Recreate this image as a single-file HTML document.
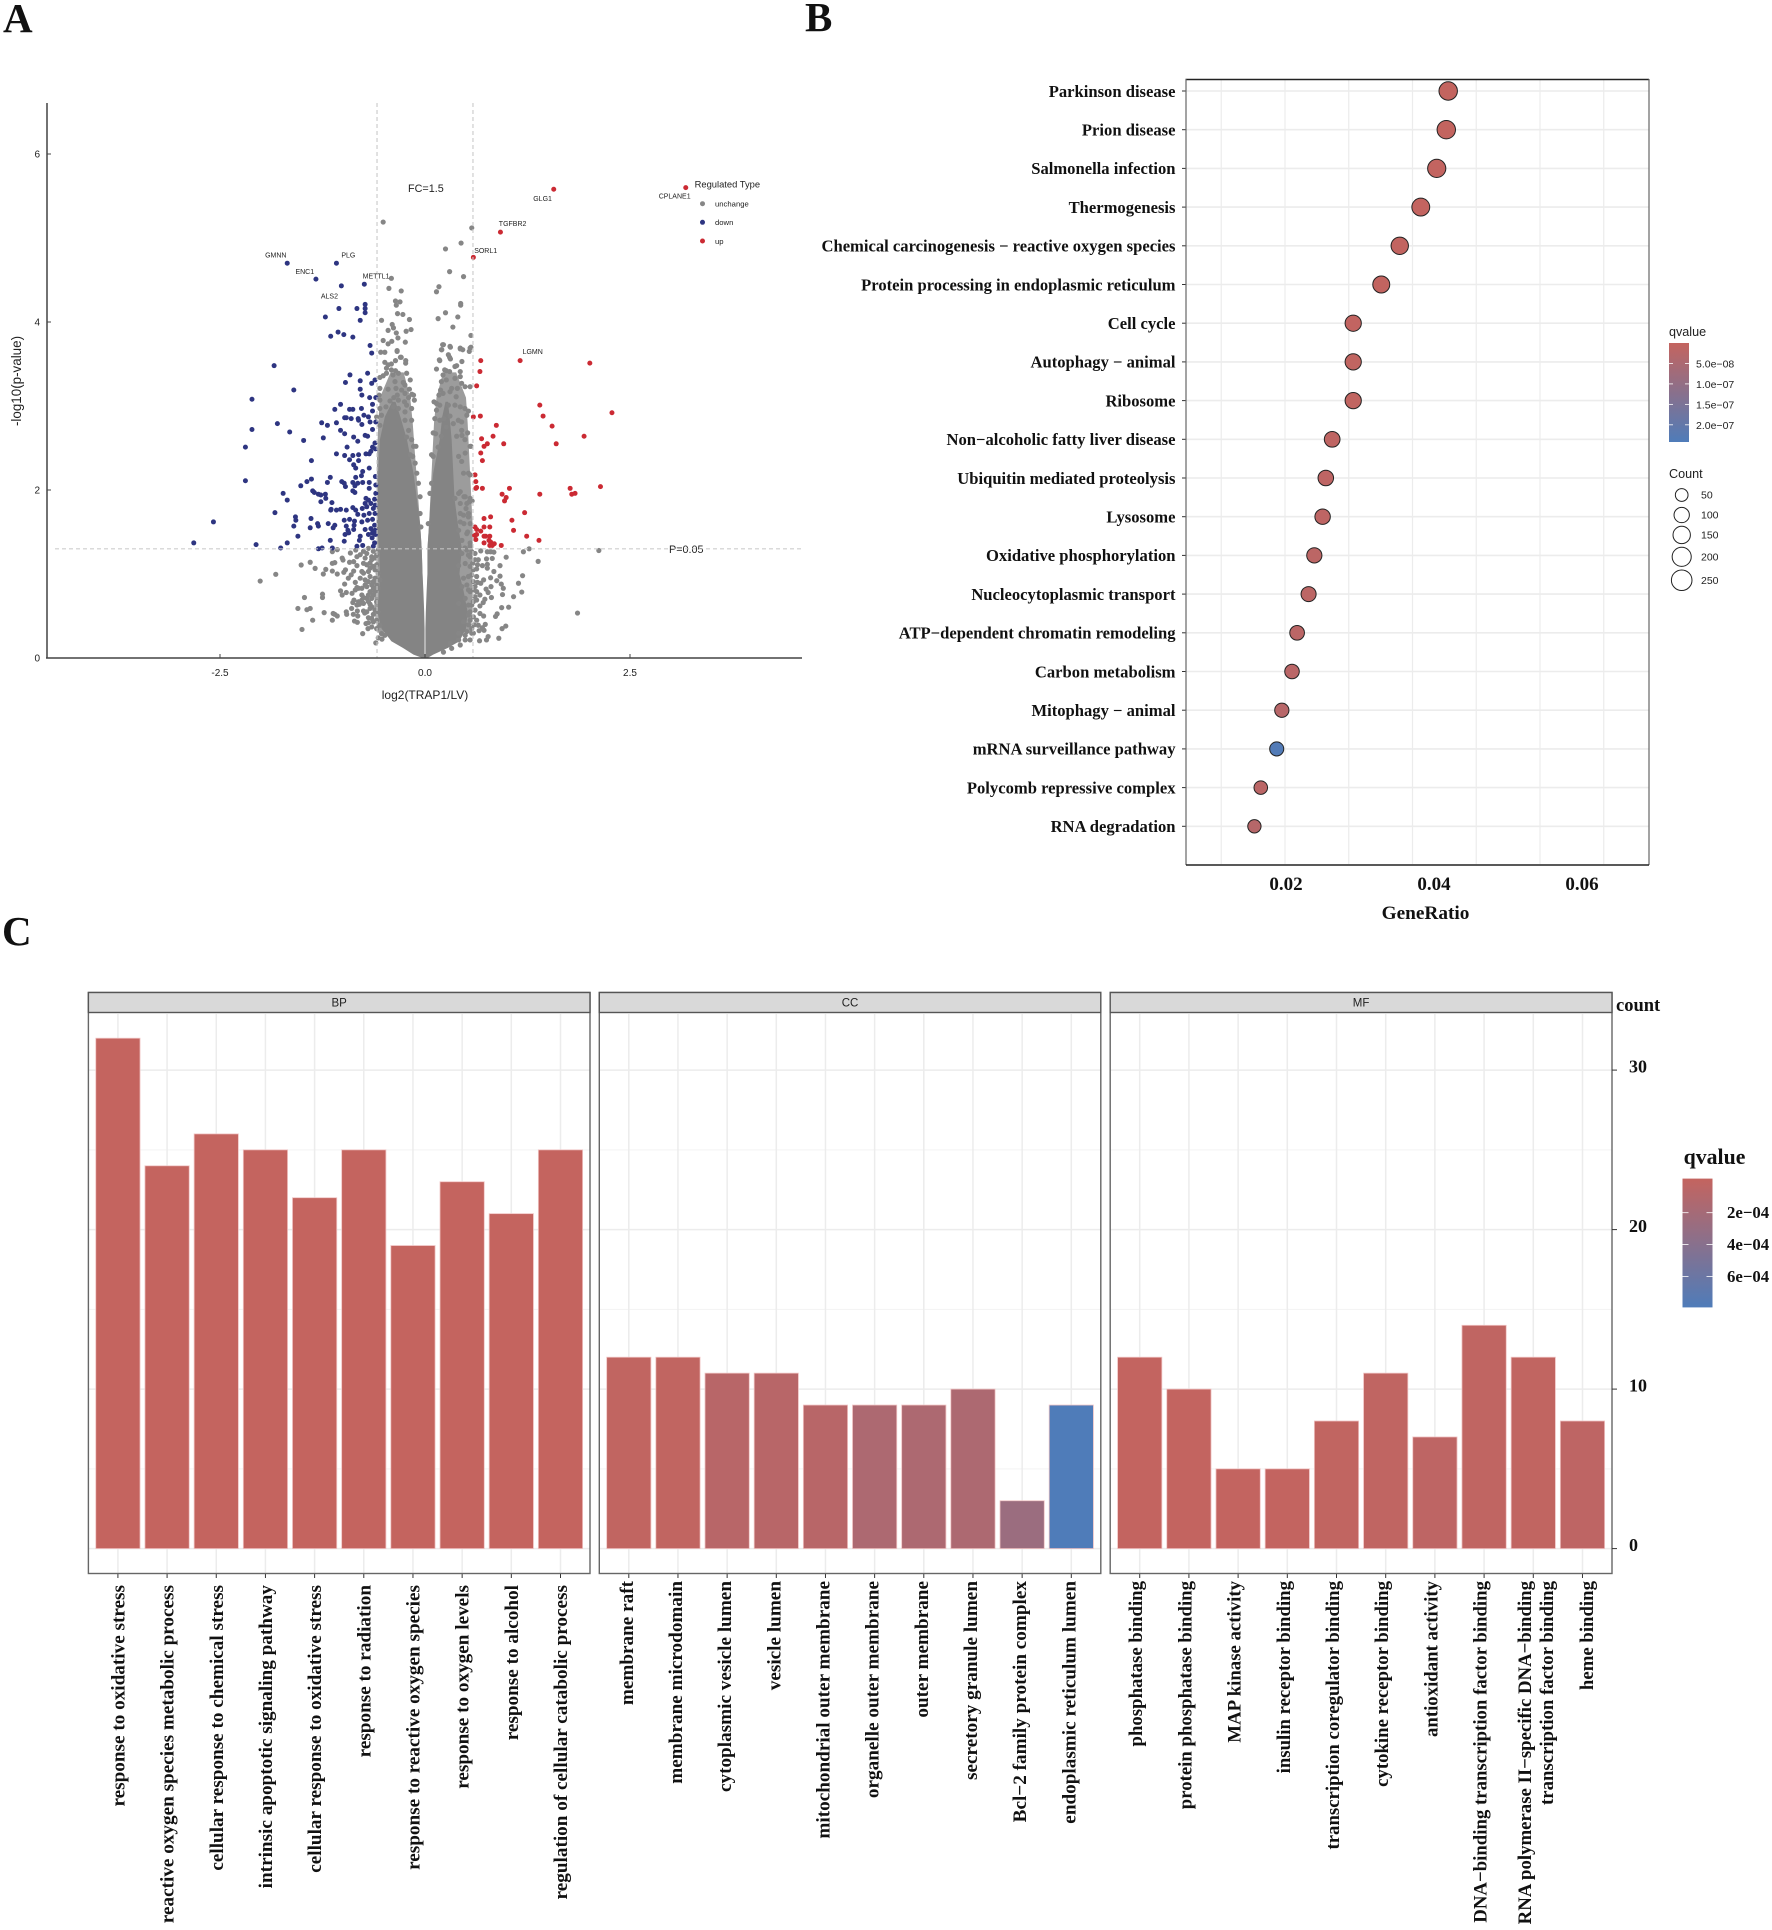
<!DOCTYPE html>
<html lang="en">
<head>
<meta charset="utf-8">
<title>Volcano plot, KEGG dot plot and GO enrichment bar chart</title>
<style>
html,body{margin:0;padding:0;background:#fff;}
#figure{display:block;width:1772px;height:1930px;}
.sans{font-family:"Liberation Sans",sans-serif;fill:#222;}
.serif{font-family:"Liberation Serif",serif;font-weight:bold;fill:#111;}
</style>
</head>
<body>
<svg id="figure" xmlns="http://www.w3.org/2000/svg" width="1772" height="1930" viewBox="0 0 1772 1930">
  <defs>
    <linearGradient id="qGrad" x1="0" y1="0" x2="0" y2="1">
      <stop offset="0" stop-color="#c4645f"/>
      <stop offset="1" stop-color="#4f7cb9"/>
    </linearGradient>
  </defs>
  <rect width="1772" height="1930" fill="#fff"/>
  <text class="serif" x="3" y="32" font-size="41" fill="#000">A</text>
  <text class="serif" x="805" y="31" font-size="41" fill="#000">B</text>
  <text class="serif" x="2" y="945" font-size="41" fill="#000">C</text>

  <g id="panelA">
    <text class="sans" x="425" y="699" font-size="12" text-anchor="middle">log2(TRAP1/LV)</text>
    <text class="sans" transform="translate(21 381) rotate(-90)" font-size="13.4" text-anchor="middle">-log10(p-value)</text>
    <text class="sans" x="408" y="192" font-size="10.8">FC=1.5</text>
    <text class="sans" x="669" y="553" font-size="10.8">P=0.05</text>
    <text class="sans" x="694.6" y="187.5" font-size="9.4">Regulated Type</text>
    <circle cx="702.5" cy="203.7" r="2.5" fill="#868686"/>
    <circle cx="702.5" cy="222.3" r="2.5" fill="#2e3581"/>
    <circle cx="702.5" cy="241" r="2.5" fill="#cb2a33"/>
    <text class="sans" x="715" y="206.5" font-size="7.7">unchange</text>
    <text class="sans" x="715" y="225" font-size="7.7">down</text>
    <text class="sans" x="715" y="244" font-size="7.7">up</text>
  </g>

  <g id="panelB">
    <text class="serif" x="1425.5" y="919" font-size="19.3" text-anchor="middle">GeneRatio</text>
    <text class="sans" x="1669" y="336" font-size="12.6">qvalue</text>
    <rect x="1669" y="343" width="20" height="99" fill="url(#qGrad)"/>
    <text class="sans" x="1669" y="478" font-size="12.6">Count</text>
  </g>

  <g id="panelC">
    <text class="serif" x="1616" y="1011" font-size="18.5">count</text>
    <text class="serif" x="1683.6" y="1164" font-size="21.8">qvalue</text>
    <rect x="1682.5" y="1178.6" width="30" height="128.8" fill="url(#qGrad)"/>
  </g>
</svg>

<script>
// ---------- Panel A data: [log2 fold change, -log10 p] ----------
const volcanoXTicks = [-2.5, 0, 2.5];
const volcanoYTicks = [0, 2, 4, 6];
const fcThresholds = [-0.585, 0.585];
const pThreshold = 1.3;

// Mottled outer body of the "unchange" cloud, as envelope values per -log10(p) level
const looseP = [0.3,0.6,1.0,1.3,1.6,2.0,2.4,2.8,3.1,3.4];
const looseLeftOuter = [-0.58,-0.62,-0.60,-0.59,-0.59,-0.59,-0.585,-0.57,-0.55,-0.42];
const looseLeftInner = [-0.01,-0.02,-0.03,-0.04,-0.06,-0.09,-0.12,-0.15,-0.18,-0.26];
const looseRightInner = [0.01,0.02,0.03,0.03,0.05,0.07,0.09,0.11,0.14,0.22];
const looseRightOuter = [0.56,0.58,0.58,0.58,0.58,0.56,0.54,0.52,0.50,0.38];

// Dense body of the "unchange" cloud, as envelope values per -log10(p) level
const coreP = [0.0,0.04,0.12,0.2,0.35,0.55,0.8,1.0,1.3,1.6,1.9,2.2,2.6,2.87,3.05];
const coreLeftOuter = [-0.03,-0.14,-0.27,-0.41,-0.53,-0.58,-0.56,-0.55,-0.56,-0.59,-0.58,-0.57,-0.55,-0.49,-0.40];
const coreLeftInner = [-0.005,-0.005,-0.005,-0.005,-0.005,-0.01,-0.02,-0.03,-0.04,-0.06,-0.10,-0.14,-0.22,-0.30,-0.36];
const coreRightInner = [0.005,0.005,0.005,0.005,0.005,0.01,0.02,0.03,0.03,0.05,0.07,0.10,0.18,0.21,0.25];
const coreRightOuter = [0.03,0.10,0.28,0.42,0.50,0.52,0.47,0.42,0.45,0.40,0.36,0.345,0.325,0.30,0.28];

const unchangePoints = [
[-0.51,5.19],[0.57,5.12],[0.44,4.94],[0.25,4.87],[0.30,4.60],[0.47,4.54],[0.17,4.42],[0.14,4.36],[-0.41,4.52],[-0.44,4.40],[-0.29,4.37],[-0.36,4.25],[-0.305,4.24],[-0.35,4.20],[0.435,4.22],[0.435,4.20],[0.25,4.11],[0.16,4.04],[0.40,4.06],[-0.335,4.10],[-0.27,4.09],[-0.19,4.03],[-0.53,4.02],[-0.40,3.97],[0.34,3.94],[-0.385,3.93],[-0.45,3.90],[-0.23,3.89],[-0.17,3.91],[-0.35,3.87],[0.56,3.84],[-0.33,3.81],[-0.51,3.78],[-0.24,3.76],[-0.405,3.77],[-0.45,3.74],[0.225,3.73],[0.31,3.70],[0.205,3.67],[0.43,3.68],[0.56,3.70],[0.54,3.65],[-0.34,3.66],[-0.54,3.64],[-0.49,3.64],[0.18,3.54],[0.30,3.58],[0.45,3.53],[-0.29,3.58],[-0.235,3.54],[-0.49,3.52],[-0.36,3.54],[0.14,3.44],[0.365,3.47],[0.26,3.42],
[-0.34,3.65],[-0.30,3.58],[-0.236,3.51],[-0.41,3.50],[-0.45,3.49],[-0.47,3.45],[-0.41,3.43],[-0.36,3.42],[-0.325,3.39],[-0.224,3.39],[-0.47,3.39],[-0.51,3.36],[-0.55,3.34],[-0.39,3.37],[-0.366,3.29],[-0.18,3.31],[-0.265,3.28],[-0.245,3.25],[-0.55,3.21],[-0.45,3.20],[-0.354,3.21],[-0.285,3.19],[-0.19,3.20],[-0.16,3.14],[-0.244,3.15],[-0.338,3.13],[-0.14,3.13],[-0.56,3.13],[-0.55,3.07],[-0.427,3.06],[-0.325,3.07],[-0.25,3.05],[-0.13,3.07],[-0.38,3.10],[-0.20,3.10],[-0.224,3.01],[-0.476,2.99],[-0.386,2.99],[-0.325,2.97],[-0.55,2.97],[-0.163,2.97],[-0.244,2.93],[-0.53,2.89],[-0.59,2.87],[-0.244,2.83],[-0.163,2.83],[-0.55,2.77],[-0.20,2.71],[-0.14,2.52],[-0.11,2.52],[-0.224,2.63],[-0.163,2.60],[-0.08,2.08],[-0.06,1.92],[-0.06,1.72],[-0.05,1.56],[-0.15,2.40],[-0.12,2.32],[-0.10,2.20],[-0.18,2.42],
[0.20,3.67],[0.175,3.55],[0.305,3.71],[0.215,3.73],[0.43,3.69],[0.46,3.67],[0.55,3.69],[0.285,3.61],[0.31,3.56],[0.24,3.43],[0.22,3.37],[0.30,3.41],[0.386,3.48],[0.43,3.41],[0.43,3.35],[0.365,3.33],[0.20,3.29],[0.26,3.31],[0.19,3.19],[0.22,3.15],[0.325,3.21],[0.305,3.17],[0.447,3.27],[0.488,3.23],[0.55,3.23],[0.38,3.11],[0.17,3.13],[0.395,3.21],[0.11,3.05],[0.14,3.03],[0.18,3.01],[0.285,3.01],[0.365,3.01],[0.43,2.99],[0.487,2.97],[0.53,2.94],[0.51,2.89],[0.14,2.95],[0.12,2.85],[0.18,2.83],[0.23,2.85],[0.305,2.88],[0.406,2.83],[0.447,2.81],[0.345,2.79],[0.26,2.75],[0.10,2.68],[0.13,2.67],[0.20,2.64],[0.447,2.71],[0.386,2.64],[0.487,2.60],[0.56,2.52],[0.08,2.42],[0.10,2.40],[0.16,2.51],[0.49,2.44],[0.41,2.40],[0.447,2.34],[0.53,2.20],[0.55,2.18],[0.47,2.20],[0.43,1.98],[0.49,1.92],[0.55,1.90],[0.51,1.84],[0.43,1.84],[0.365,1.90],[0.47,1.70],[0.53,1.72],[0.43,1.62],[0.55,1.60],[0.51,1.48],[0.55,1.37],[0.487,1.31],[0.06,1.96],[0.04,1.60],[0.08,2.08],
[0.45,2.65],[0.52,2.68],[0.55,2.52],[0.41,1.96],[0.475,1.92],[0.54,1.86],[0.50,1.78],[0.43,1.72],[0.575,1.87],[0.53,1.68],[0.475,1.60],[0.41,1.52],[0.52,1.50],[0.45,1.40],[0.55,1.33],
[-2.01,0.916],[-1.82,0.996],[-1.51,1.107],[-1.40,1.14],[-1.34,1.067],[-1.21,1.055],[-1.24,1.0],[-1.13,1.035],[-1.13,1.127],[-1.10,1.135],[-1.13,1.266],[-1.07,1.29],[-1.07,1.0],[-1.01,1.19],[-1.0,1.166],[-0.92,1.14],[-0.91,1.25],[-0.97,1.05],[-0.99,1.02],[-0.935,0.95],[-0.90,0.99],[-0.87,1.035],[-0.83,1.10],[-0.83,1.206],[-0.845,1.285],[-0.98,0.88],[-0.85,0.90],[-0.77,1.03],[-0.75,1.127],[-1.03,0.80],[-0.96,0.78],[-1.01,0.75],[-1.47,0.72],[-1.25,0.76],[-1.25,0.72],[-1.55,0.59],[-1.44,0.575],[-1.40,0.59],[-1.23,0.54],[-1.37,0.45],[-1.50,0.34],[-1.13,0.45],[-1.12,0.53],[-1.10,0.52],[-1.07,0.50],[-0.96,0.55],[-0.955,0.52],[-0.895,0.59],[-0.874,0.52],[-0.825,0.56],[-0.82,0.50],[-0.86,0.44],[-0.825,0.425],[-0.75,0.56],[-0.735,0.535],[-0.72,0.41],[-0.695,0.35],[-0.76,0.29],[-0.60,0.18],[-0.57,0.24],[-0.525,0.225],[-0.65,0.47],[-0.63,0.52],[-0.69,0.48],[-0.89,0.77],[-0.866,0.69],[-0.88,0.66],[-0.83,0.63],[-0.80,0.64],[-0.85,0.81],[-0.81,0.83],[-0.77,0.83],[-0.83,0.84],[-0.77,0.75],[-0.75,0.72],[-0.77,0.69],[-0.69,0.67],[-0.67,0.64],[-0.65,0.61],[-0.69,0.75],[-0.63,0.75],[-0.71,0.85],[-0.65,0.87],[-0.73,0.93],[-0.67,0.97],[-0.61,0.95],[-0.69,1.03],[-0.63,1.09],[-0.67,1.13],[-0.73,1.19],[-0.79,1.23],[-0.71,1.245],[-0.65,1.205],[-0.59,1.225],[-0.59,1.11],[-0.59,0.87],[-0.59,0.67],[-0.57,0.55],[-0.63,0.43],[-0.55,0.39],[-0.63,0.83],[-0.75,1.01],[-0.67,0.79],[-0.87,1.147],
[-0.81,0.67],[-0.75,0.65],[-0.71,0.71],[-0.65,0.71],[-0.61,0.79],[-0.57,0.83],[-0.73,0.87],[-0.69,0.91],[-0.63,0.91],[-0.55,0.93],[-0.67,1.07],[-0.61,1.05],[-0.57,1.01],[-0.71,1.11],[-0.65,1.17],[-0.61,1.19],[-0.75,1.27],[-0.69,1.305],[-0.63,1.27],[-0.57,1.285],[-0.79,0.95],[-0.67,0.59],[-0.61,0.57],[-0.71,0.55],[-0.69,0.42],[-0.59,0.45],[-0.65,0.37],[-0.59,0.35],[-0.53,0.29],[-0.49,0.27],
[1.27,1.30],[1.20,1.265],[2.12,1.28],[1.38,1.15],[0.99,1.20],[0.915,1.10],[1.19,0.98],[0.915,0.975],[0.875,0.92],[0.80,0.955],[0.84,1.03],[1.14,0.89],[0.93,0.88],[0.955,0.83],[0.805,0.85],[0.745,0.82],[1.18,0.785],[0.945,0.755],[1.08,0.73],[0.81,0.72],[0.77,0.78],[1.02,0.605],[0.935,0.60],[1.86,0.535],[0.88,0.525],[0.86,0.495],[0.715,0.50],[0.985,0.38],[0.94,0.35],[0.735,0.40],[0.90,0.235],[0.77,0.255],[0.75,0.215],[0.665,0.205],[0.66,0.325],[0.59,0.295],[0.72,0.33],[0.70,0.36],[0.63,0.45],[0.60,0.395],[0.76,1.265],[0.80,1.265],[0.84,1.26],[0.68,1.275],[0.75,1.18],[0.82,1.185],[0.65,1.17],[0.76,1.115],[0.70,1.10],[0.76,1.07],[0.63,1.06],[0.64,1.11],[0.61,1.245],[0.58,1.125],[0.63,0.97],[0.715,0.93],[0.64,0.90],[0.68,0.89],[0.61,0.85],[0.67,0.75],[0.73,0.70],[0.71,0.66],[0.67,0.62],[0.61,0.73],[0.53,0.63],[0.55,0.55],[0.53,0.51],[0.49,0.71],[0.55,0.79],[0.51,0.87],[0.47,0.95],[0.57,0.99],[0.55,1.09],[0.49,1.125],[0.55,1.205],[0.45,1.245],[0.51,1.285],[0.41,1.10],[0.45,0.85],[0.41,0.65],[0.47,0.43],[0.53,0.395],[0.49,0.215],[0.43,0.155],[0.325,0.115],[0.225,0.07],[0.305,0.175],[0.41,0.295],[0.57,0.295],[0.51,0.315],
[0.53,1.225],[0.57,1.265],[0.61,1.17],[0.59,1.05],[0.53,0.97],[0.59,0.91],[0.53,0.81],[0.59,0.81],[0.63,0.79],[0.59,0.67],[0.63,0.69],[0.57,0.63],[0.61,0.57],[0.59,0.49],[0.67,0.53],[0.55,0.45],[0.65,0.39],[0.57,0.35],[0.49,0.27],[0.55,0.215],[0.41,0.215]
];
const downPoints = [
[-1.68,4.70],[-1.08,4.70],[-1.33,4.51],[-1.02,4.43],[-0.74,4.45],[-0.73,4.21],[-0.73,4.16],[-0.73,4.11],[-0.83,4.16],[-1.05,4.16],[-1.215,4.06],[-0.79,4.02],[-1.06,3.88],[-0.99,3.85],[-1.15,3.83],[-0.88,3.82],[-0.67,3.72],[-0.65,3.63],[-1.84,3.48],[-0.915,3.37],[-0.70,3.39],[-0.97,3.28],[-0.79,3.30],[-0.65,3.27],[-0.61,3.31],[-1.60,3.19],[-0.79,3.20],[-0.77,3.13],[-2.11,3.08],[-0.60,3.10],[-0.675,3.10],[-0.64,3.02],[-1.03,3.02],[-1.10,2.96],[-0.92,2.96],[-0.88,2.96],[-0.775,2.97],[-0.64,2.94],[-0.98,2.86],[-0.96,2.86],[-0.90,2.85],[-0.815,2.85],[-0.745,2.89],[-0.69,2.87],[-0.81,2.83],[-0.77,2.78],[-0.67,2.81],[-0.60,2.81],[-1.26,2.80],[-1.19,2.77],[-1.08,2.80],[-1.80,2.79],[-1.03,2.71],[-0.98,2.67],[-0.64,2.72],[-2.11,2.72],[-1.65,2.69],[-0.87,2.63],[-0.73,2.65],[-0.70,2.64],[-0.82,2.58],[-1.24,2.62],[-1.48,2.59],[-2.19,2.51],[-0.95,2.51],[-0.61,2.56],[-0.64,2.51],[-0.66,2.46],[-0.605,2.49],[-1.08,2.43],[-0.98,2.41],[-0.88,2.41],[-0.81,2.42],[-0.72,2.43],[-0.68,2.43],[-0.92,2.36],[-1.385,2.35],[-0.81,2.35],[-0.87,2.30],[-0.845,2.26],[-0.76,2.22],[-0.68,2.26],[-0.775,2.17],[-0.845,2.15],[-0.605,2.16],[-1.155,2.15],[-2.19,2.11],[-1.385,2.13],[-1.44,2.10],[-1.19,2.09],[-1.015,2.10],[-0.985,2.08],[-0.88,2.09],[-0.82,2.08],[-0.76,2.09],[-0.68,2.09],[-1.515,2.05],[-0.97,2.04],[-0.855,2.05],[-0.60,2.06],[-0.68,2.02],[-1.73,1.96],[-1.37,1.99],[-1.35,1.97],[-0.88,1.99],[-0.855,1.97],[-1.30,1.95],[-1.27,1.94],[-1.215,1.95],[-0.60,1.96],[-1.68,1.88],[-1.21,1.90],[-1.27,1.86],[-0.72,1.90],[-0.69,1.88],[-0.615,1.89],[-1.135,1.85],[-0.73,1.84],[-0.66,1.84],[-0.605,1.82],[-0.88,1.79],[-1.145,1.77],[-1.08,1.76],[-1.03,1.77],[-0.96,1.76],[-0.845,1.76],[-0.765,1.78],[-0.71,1.80],[-0.63,1.78],[-1.83,1.73],[-1.15,1.76],[-0.82,1.71],[-0.745,1.70],[-0.68,1.72],[-0.61,1.72],[-1.58,1.68],[-1.575,1.64],[-1.39,1.66],[-0.985,1.64],[-0.92,1.65],[-0.86,1.63],[-0.77,1.62],[-0.70,1.64],[-0.64,1.65],[-1.18,1.60],[-1.31,1.60],[-1.30,1.57],[-1.10,1.58],[-1.12,1.55],[-1.60,1.57],[-1.40,1.55],[-0.96,1.57],[-0.865,1.58],[-0.615,1.58],[-0.94,1.52],[-0.87,1.53],[-0.73,1.53],[-0.66,1.54],[-0.61,1.52],[-0.975,1.47],[-0.93,1.49],[-0.79,1.45],[-0.69,1.47],[-0.64,1.49],[-1.55,1.45],[-1.155,1.40],[-0.985,1.39],[-0.80,1.40],[-0.645,1.43],[-0.605,1.47],[-2.06,1.35],[-1.68,1.37],[-1.76,1.31],[-1.30,1.30],[-1.255,1.31],[-1.13,1.31],[-0.83,1.33],[-0.76,1.34],[-0.63,1.33],[-0.615,1.37],[-2.82,1.37],[-2.58,1.62]
];
const upPoints = [
[3.18,5.60],[1.57,5.58],[0.92,5.07],[0.59,4.77],[1.16,3.54],[2.01,3.51],[0.68,3.54],[0.67,3.41],[0.63,3.24],[1.40,3.01],[2.28,2.92],[1.44,2.88],[0.59,2.87],[0.675,2.88],[0.87,2.77],[1.55,2.76],[1.94,2.64],[0.83,2.64],[0.69,2.61],[0.76,2.55],[0.96,2.55],[0.72,2.52],[1.60,2.55],[0.68,2.44],[0.70,2.35],[0.61,2.18],[0.62,2.10],[0.62,2.02],[0.63,2.03],[0.70,2.02],[1.03,2.02],[1.77,2.02],[2.14,2.04],[1.79,1.95],[1.83,1.96],[1.40,1.95],[0.94,1.95],[0.99,1.91],[0.97,1.87],[1.215,1.73],[1.06,1.64],[0.80,1.68],[0.72,1.66],[0.61,1.56],[0.63,1.53],[0.72,1.56],[0.79,1.56],[0.68,1.51],[1.08,1.52],[0.605,1.46],[0.63,1.47],[0.62,1.41],[0.72,1.45],[0.74,1.45],[0.79,1.45],[1.24,1.45],[1.39,1.40],[0.78,1.40],[0.80,1.38],[0.72,1.37],[0.845,1.36],[0.79,1.34],[0.93,1.34],[0.82,1.34]
];
const geneLabels = ["GMNN","PLG","ENC1","METTL1","ALS2","SORL1","TGFBR2","GLG1","CPLANE1","LGMN"];
const geneLabelAnchors = [[-1.95,4.80],[-1.02,4.80],[-1.58,4.60],[-0.76,4.55],[-1.27,4.31],[0.60,4.85],[0.90,5.17],[1.32,5.47],[2.85,5.50],[1.19,3.65]];

// ---------- Panel B data ----------
const pathways = ["Parkinson disease","Prion disease","Salmonella infection","Thermogenesis","Chemical carcinogenesis \u2212 reactive oxygen species","Protein processing in endoplasmic reticulum","Cell cycle","Autophagy \u2212 animal","Ribosome","Non\u2212alcoholic fatty liver disease","Ubiquitin mediated proteolysis","Lysosome","Oxidative phosphorylation","Nucleocytoplasmic transport","ATP\u2212dependent chromatin remodeling","Carbon metabolism","Mitophagy \u2212 animal","mRNA surveillance pathway","Polycomb repressive complex","RNA degradation"];
const geneRatio = [0.0456,0.0453,0.0438,0.0413,0.0380,0.0351,0.0307,0.0307,0.0307,0.0274,0.0264,0.0259,0.0246,0.0237,0.0219,0.0211,0.0195,0.0187,0.0162,0.0152];
const pathwayCount = [180,179,173,163,150,139,121,121,121,108,104,102,97,94,86,83,77,74,64,60];
const pathwayQ = [1e-9,1e-9,2e-9,2e-9,3e-9,3e-9,4e-9,5e-9,6e-9,1e-8,1.2e-8,1.2e-8,1.5e-8,1.6e-8,1.8e-8,2e-8,2.4e-8,2.2e-7,1.8e-8,2.6e-8];
const dotGrid = [0.01,0.02,0.03,0.04,0.05,0.06,0.07];
const dotTickLabels = [0.02,0.04,0.06];
const dotQTicks = [5e-8,1e-7,1.5e-7,2e-7];
const dotQTickText = ["5.0e\u221208","1.0e\u221207","1.5e\u221207","2.0e\u221207"];
const countLegend = [50,100,150,200,250];

// ---------- Panel C data ----------
const bpTerms = ["response to oxidative stress","reactive oxygen species metabolic process","cellular response to chemical stress","intrinsic apoptotic signaling pathway","cellular response to oxidative stress","response to radiation","response to reactive oxygen species","response to oxygen levels","response to alcohol","regulation of cellular catabolic process"];
const bpCounts = [32,24,26,25,22,25,19,23,21,25];
const bpQ = [1e-6,1e-6,1e-6,1e-6,1e-6,1e-6,1e-6,1e-6,1e-6,1e-6];
const ccTerms = ["membrane raft","membrane microdomain","cytoplasmic vesicle lumen","vesicle lumen","mitochondrial outer membrane","organelle outer membrane","outer membrane","secretory granule lumen","Bcl\u22122 family protein complex","endoplasmic reticulum lumen"];
const ccCounts = [12,12,11,11,9,9,9,10,3,9];
const ccQ = [2e-5,2e-5,8e-5,8e-5,8e-5,1.55e-4,1.55e-4,1.55e-4,2.8e-4,7.9e-4];
const mfTerms = ["phosphatase binding","protein phosphatase binding","MAP kinase activity","insulin receptor binding","transcription coregulator binding","cytokine receptor binding","antioxidant activity","DNA\u2212binding transcription factor binding","RNA polymerase II\u2212specific DNA\u2212binding|transcription factor binding","heme binding"];
const mfCounts = [12,10,5,5,8,11,7,14,12,8];
const mfQ = [1e-5,1e-5,1e-5,1e-5,2e-5,3e-5,4e-5,3e-5,2e-5,4e-5];
const facetNames = ["BP","CC","MF"];
const countTicks = [0,10,20,30];
const countMinorTicks = [5,15,25];
const barQTicks = [2e-4,4e-4,6e-4];
const barQTickText = ["2e\u221204","4e\u221204","6e\u221204"];

// ---------- helpers ----------
const SVGNS = "http://www.w3.org/2000/svg";
function mk(parent, tag, attrs, txt) {
  const el = document.createElementNS(SVGNS, tag);
  for (const k in attrs) el.setAttribute(k, attrs[k]);
  if (txt !== undefined) el.textContent = txt;
  parent.appendChild(el);
  return el;
}
const RED = [196,100,95], BLUE = [79,124,185];
function mix(t) {
  const c = RED.map((r, i) => Math.round(r + (BLUE[i] - r) * Math.min(1, Math.max(0, t))));
  return "rgb(" + c.join(",") + ")";
}

// ---------- Panel A ----------
const gA = document.getElementById("panelA");
const ax = v => 425 + v * 82;
const ay = v => 658 - v * 84;

function wing(levels, outer, inner, name, fill) {
  const pts = [];
  levels.forEach((p, i) => pts.push(ax(outer[i]) + "," + ay(p)));
  for (let i = levels.length - 1; i >= 0; i--) pts.push(ax(inner[i]) + "," + ay(levels[i]));
  const el = mk(gA, "polygon", { points: pts.join(" "), fill: fill });
  
  
}
wing(looseP, looseLeftOuter, looseLeftInner, 'unchange-cloud-left-outer', '#9c9c9c');
wing(looseP, looseRightOuter, looseRightInner, 'unchange-cloud-right-outer', '#9c9c9c');
wing(coreP, coreLeftOuter, coreLeftInner, 'unchange-cloud-left-wing', '#848484');
wing(coreP, coreRightOuter, coreRightInner, 'unchange-cloud-right-wing', '#848484');

unchangePoints.forEach(d => {
  const el = mk(gA, "circle", { cx: ax(d[0]), cy: ay(d[1]), r: 2.6, fill: "#868686" });
  
  
});
downPoints.forEach(d => {
  const el = mk(gA, "circle", { cx: ax(d[0]), cy: ay(d[1]), r: 2.5, fill: "#2e3581" });
  
  
});
upPoints.forEach(d => {
  const el = mk(gA, "circle", { cx: ax(d[0]), cy: ay(d[1]), r: 2.5, fill: "#cb2a33" });
  
  
});
fcThresholds.forEach(v => {
  const el = mk(gA, "line", { x1: ax(v), x2: ax(v), y1: 103, y2: 658, stroke: "#c8c8c8", "stroke-width": 1.2, "stroke-dasharray": "4 3", opacity: 0.9 });
  
  
});
{
  const el = mk(gA, "line", { x1: 55, x2: 802, y1: ay(pThreshold), y2: ay(pThreshold), stroke: "#c8c8c8", "stroke-width": 1.2, "stroke-dasharray": "4 3", opacity: 0.9 });
  
  
}
{
  const el = mk(gA, "line", { x1: 47, x2: 47, y1: 103, y2: 658, stroke: "#444", "stroke-width": 1.5 });
  
  
  const el2 = mk(gA, "line", { x1: 46, x2: 802, y1: 658, y2: 658, stroke: "#444", "stroke-width": 1.5 });
  
  
}
volcanoXTicks.forEach(v => {
  const t = mk(gA, "line", { x1: ax(v), x2: ax(v), y1: 654, y2: 658, stroke: "#444", "stroke-width": 1 });
  
  
  const l = mk(gA, "text", { x: ax(v), y: 676, "font-size": 10, "text-anchor": "middle", class: "sans" }, v === 0 ? "0.0" : v.toFixed(1));
  
  
});
volcanoYTicks.forEach(v => {
  const t = mk(gA, "line", { x1: 47, x2: 51, y1: ay(v), y2: ay(v), stroke: "#444", "stroke-width": 1 });
  
  
  const l = mk(gA, "text", { x: 40, y: ay(v) + 3.5, "font-size": 10, "text-anchor": "end", class: "sans" }, String(v));
  
  
});
geneLabels.forEach((g, i) => {
  const l = mk(gA, "text", { x: ax(geneLabelAnchors[i][0]), y: ay(geneLabelAnchors[i][1]) + 2.5, "font-size": 7, class: "sans" }, g);
  
  
});

// ---------- Panel B ----------
const gB = document.getElementById("panelB");
const bx = v => 1285 + (v - 0.02) * 6375;
const bLabelX = v => 1286 + (v - 0.02) * 7400;
const by = i => 91 + i * 38.7;
const br = c => 0.452 * Math.sqrt(c) + 3.15;
const qDotMax = 2.25e-7;

dotGrid.forEach(v => {
  const el = mk(gB, "line", { x1: bx(v), x2: bx(v), y1: 80, y2: 864, stroke: "#ececec", "stroke-width": 1.2 });
  
  
});
pathways.forEach((name, i) => {
  const g = mk(gB, "line", { x1: 1186, x2: 1649, y1: by(i), y2: by(i), stroke: "#ececec", "stroke-width": 1.6 });
  
  
  const t = mk(gB, "line", { x1: 1182, x2: 1186, y1: by(i), y2: by(i), stroke: "#333", "stroke-width": 1 });
  
  
  const l = mk(gB, "text", { x: 1175.5, y: by(i) + 5.8, "font-size": 16.6, "text-anchor": "end", class: "serif" }, name);
  
  
});
{
  const top = mk(gB, "line", { x1: 1185.5, x2: 1649, y1: 79.5, y2: 79.5, stroke: "#222", "stroke-width": 1.4 });
  
  
  const right = mk(gB, "line", { x1: 1649, x2: 1649, y1: 79, y2: 865, stroke: "#666", "stroke-width": 1.2 });
  
  
  const left = mk(gB, "line", { x1: 1186, x2: 1186, y1: 79, y2: 865, stroke: "#666", "stroke-width": 1.2 });
  
  
  const bottom = mk(gB, "line", { x1: 1186, x2: 1649, y1: 865, y2: 865, stroke: "#222", "stroke-width": 1.6 });
  
  
}
pathways.forEach((name, i) => {
  const el = mk(gB, "circle", { cx: bx(geneRatio[i]), cy: by(i), r: br(pathwayCount[i]), fill: mix(pathwayQ[i] / qDotMax), stroke: "#222", "stroke-width": 1 });
  
  
});
dotTickLabels.forEach(v => {
  const l = mk(gB, "text", { x: bLabelX(v), y: 890, "font-size": 19, "text-anchor": "middle", class: "serif" }, v.toFixed(2));
  
  
});
dotQTicks.forEach((q, i) => {
  const y = 343 + (q / 2.42e-7) * 99;
  const a = mk(gB, "line", { x1: 1669, x2: 1673, y1: y, y2: y, stroke: "#fff", "stroke-width": 0.8 });
  
  
  const b = mk(gB, "line", { x1: 1685, x2: 1689, y1: y, y2: y, stroke: "#fff", "stroke-width": 0.8 });
  
  
  const l = mk(gB, "text", { x: 1696, y: y + 4, "font-size": 10.5, class: "sans" }, dotQTickText[i]);
  
  
});
{
  let legendY = 495;
  countLegend.forEach((c, i) => {
    if (i > 0) legendY += br(c) + br(countLegend[i - 1]) + (i === 1 ? 6 : 3.6);
    const o = mk(gB, "circle", { cx: 1681.7, cy: legendY, r: br(c), fill: "#fff", stroke: "#222", "stroke-width": 1 });
    
    
    const l = mk(gB, "text", { x: 1701, y: legendY + 3.7, "font-size": 10.5, class: "sans" }, String(c));
    
    
  });
}

// ---------- Panel C ----------
const gC = document.getElementById("panelC");
const cy = v => 1548.6 - v * 15.95;
const qBarMax = 7.9e-4;
const panelBounds = [[88.4, 590], [599.3, 1100.8], [1110.2, 1612]];
const panelLabelDx = [6.5, 4, 2.5];
const panelLabelTop = [1585, 1581, 1581];
const panelLabelSize = [19.2, 19.2, 18.8];
const terms = [bpTerms, ccTerms, mfTerms];
const counts = [bpCounts, ccCounts, mfCounts];
const qs = [bpQ, ccQ, mfQ];

panelBounds.forEach((b, p) => {
  const [L, R] = b;
  const step = (R - L) / 10.2;
  const px = i => L + step * (0.6 + i);
  countTicks.forEach(v => {
    const g = mk(gC, "line", { x1: L, x2: R, y1: cy(v), y2: cy(v), stroke: "#ececec", "stroke-width": 1.5 });
    
    
  });
  countMinorTicks.forEach(v => {
    const g = mk(gC, "line", { x1: L, x2: R, y1: cy(v), y2: cy(v), stroke: "#f3f3f3", "stroke-width": 1 });
    
    
  });
  terms[p].forEach((name, i) => {
    const g = mk(gC, "line", { x1: px(i), x2: px(i), y1: 1014, y2: 1573, stroke: "#ececec", "stroke-width": 1.5 });
    
    
  });
  terms[p].forEach((name, i) => {
    const w = step * 0.9;
    const bar = mk(gC, "rect", { x: px(i) - w / 2, y: cy(counts[p][i]), width: w, height: cy(0) - cy(counts[p][i]), fill: mix(qs[p][i] / qBarMax), stroke: "#f0c4c4", "stroke-width": 0.8 });
    
    
    const t = mk(gC, "line", { x1: px(i), x2: px(i), y1: 1574, y2: 1578, stroke: "#333", "stroke-width": 1 });
    
    
    const lines = name.split("|");
    const nudge = name === "heme binding" ? 8 : 0;
    lines.forEach((line, k) => {
      const base = px(i) + panelLabelDx[p] + nudge + (lines.length > 1 ? (k === 0 ? -5 : 17) : 0);
      const l = mk(gC, "text", { transform: "translate(" + base + " " + panelLabelTop[p] + ") rotate(-90)", "font-size": panelLabelSize[p], "text-anchor": "end", class: "serif" }, line);
      
      
    });
  });
  const box = mk(gC, "rect", { x: L, y: 992.5, width: R - L, height: 581, fill: "none", stroke: "#666", "stroke-width": 1.4 });
  
  
  const strip = mk(gC, "rect", { x: L, y: 992.5, width: R - L, height: 20, fill: "#d9d9d9", stroke: "#555", "stroke-width": 1.4 });
  
  
  const st = mk(gC, "text", { x: (L + R) / 2, y: 1006.5, "font-size": 11.5, "text-anchor": "middle", class: "sans" }, facetNames[p]);
  
  
});
countTicks.forEach(v => {
  const t = mk(gC, "line", { x1: 1612, x2: 1617, y1: cy(v), y2: cy(v), stroke: "#333", "stroke-width": 1 });
  
  
  const l = mk(gC, "text", { x: 1629, y: cy(v) + 2.5, "font-size": 18, class: "serif" }, String(v));
  
  
});
barQTicks.forEach((q, i) => {
  const y = 1180.8 + (q / 1e-4) * 15.95;
  const a = mk(gC, "line", { x1: 1682.5, x2: 1688.5, y1: y, y2: y, stroke: "#fff", "stroke-width": 0.8 });
  
  
  const b = mk(gC, "line", { x1: 1706.5, x2: 1712.5, y1: y, y2: y, stroke: "#fff", "stroke-width": 0.8 });
  
  
  const l = mk(gC, "text", { x: 1727, y: y + 5.5, "font-size": 16.8, class: "serif" }, barQTickText[i]);
  
  
});
</script>
</body>
</html>
